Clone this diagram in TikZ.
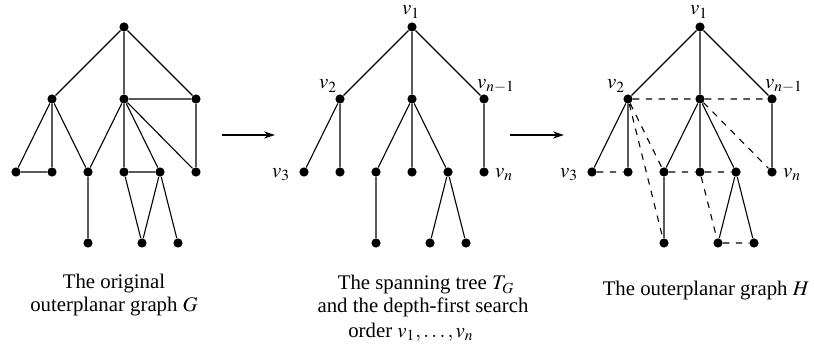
\documentclass[tikz,border=0pt]{standalone}
\usepackage{mathptmx}
\usepackage[no-math]{fontspec}
\setmainfont{Liberation Serif}
\usetikzlibrary{arrows.meta}
\begin{document}
\begin{tikzpicture}[x=0.5pt,y=-0.5pt,
  dot/.style={circle,fill=black,inner sep=0pt,minimum size=4.6pt},
  edge/.style={line width=0.55pt},
  dedge/.style={line width=0.55pt,dash pattern=on 3.2pt off 3.2pt},
  lab/.style={inner sep=0pt,font=\fontsize{10.4}{11.5}\selectfont},
  captext/.style={inner sep=0pt,align=center,anchor=base,font=\fontsize{10.4}{11.5}\selectfont},
  arr/.style={line width=0.55pt,-{Stealth[length=5.5pt,width=3.6pt]}}]
\useasboundingbox (0,0) rectangle (814,352);
\foreach \g/\dx in {a/0,b/288,c/576}{
  \node[dot] (\g r) at (124+\dx,27) {};
  \node[dot] (\g L) at (52+\dx,99) {};
  \node[dot] (\g M) at (124+\dx,99) {};
  \node[dot] (\g R) at (196+\dx,99) {};
  \node[dot] (\g 1) at (16+\dx,172) {};
  \node[dot] (\g 2) at (52+\dx,172) {};
  \node[dot] (\g 3) at (88+\dx,172) {};
  \node[dot] (\g 4) at (124+\dx,172) {};
  \node[dot] (\g 5) at (160+\dx,172) {};
  \node[dot] (\g 6) at (196+\dx,172) {};
  \node[dot] (\g x) at (88+\dx,243) {};
  \node[dot] (\g y) at (142+\dx,243) {};
  \node[dot] (\g z) at (178+\dx,243) {};
}
% Graph G
\draw[edge] (ar)--(aL) (ar)--(aM) (ar)--(aR)
  (aL)--(a1) (aL)--(a2) (aL)--(a3) (a1)--(a2)
  (aM)--(a3) (aM)--(a4) (aM)--(a5) (aM)--(a6) (aM)--(aR) (aR)--(a6)
  (a4)--(a5) (a3)--(ax) (a4)--(ay) (a5)--(ay) (a5)--(az);
% Tree T_G and graph H (tree edges)
\foreach \g in {b,c}{
  \draw[edge] (\g r)--(\g L) (\g r)--(\g M) (\g r)--(\g R)
    (\g L)--(\g 1) (\g L)--(\g 2)
    (\g M)--(\g 3) (\g M)--(\g 4) (\g M)--(\g 5)
    (\g R)--(\g 6) (\g 3)--(\g x) (\g 5)--(\g y) (\g 5)--(\g z);
}
% dashed edges of H
\draw[dedge] (cL)--(cM) (cM)--(cR) (c1)--(c2) (c3)--(c4) (c4)--(c5)
  (cL)--(c3) (cL)--(cx) (cM)--(c6) (c4)--(cy) (cy)--(cz);
% labels
\node[lab] (bl1) at (411,12) {$v_1$};
\node[lab] (bl2) at (328,86) {$v_2$};
\node[lab] (bl3) at (496,86) {$v_{n-1}$};
\node[lab] (bl4) at (281,175) {$v_3$};
\node[lab] (bl5) at (504,175) {$v_n$};
\node[lab] (cl1) at (699,12) {$v_1$};
\node[lab] (cl2) at (616,86) {$v_2$};
\node[lab] (cl3) at (784,86) {$v_{n-1}$};
\node[lab] (cl4) at (569,175) {$v_3$};
\node[lab] (cl5) at (792,175) {$v_n$};
% arrows
\coordinate (p1) at (222,135);
\coordinate (q1) at (275,135);
\coordinate (p2) at (510,135);
\coordinate (q2) at (564,135);
\draw[arr] (p1)--(q1);
\draw[arr] (p2)--(q2);
% captions
\node[captext] (t1) at (114,312) {The original\\outerplanar graph $G$};
\node[captext] (t2a) at (426,290) {The spanning tree $T_G$};
\node[captext] (t2b) at (423,313) {and the depth-first search};
\node[captext] (t2c) at (411,337) {order $v_1,\ldots,v_n$};
\node[captext] (t3) at (706,296) {The outerplanar graph $H$};
\end{tikzpicture}
\end{document}
